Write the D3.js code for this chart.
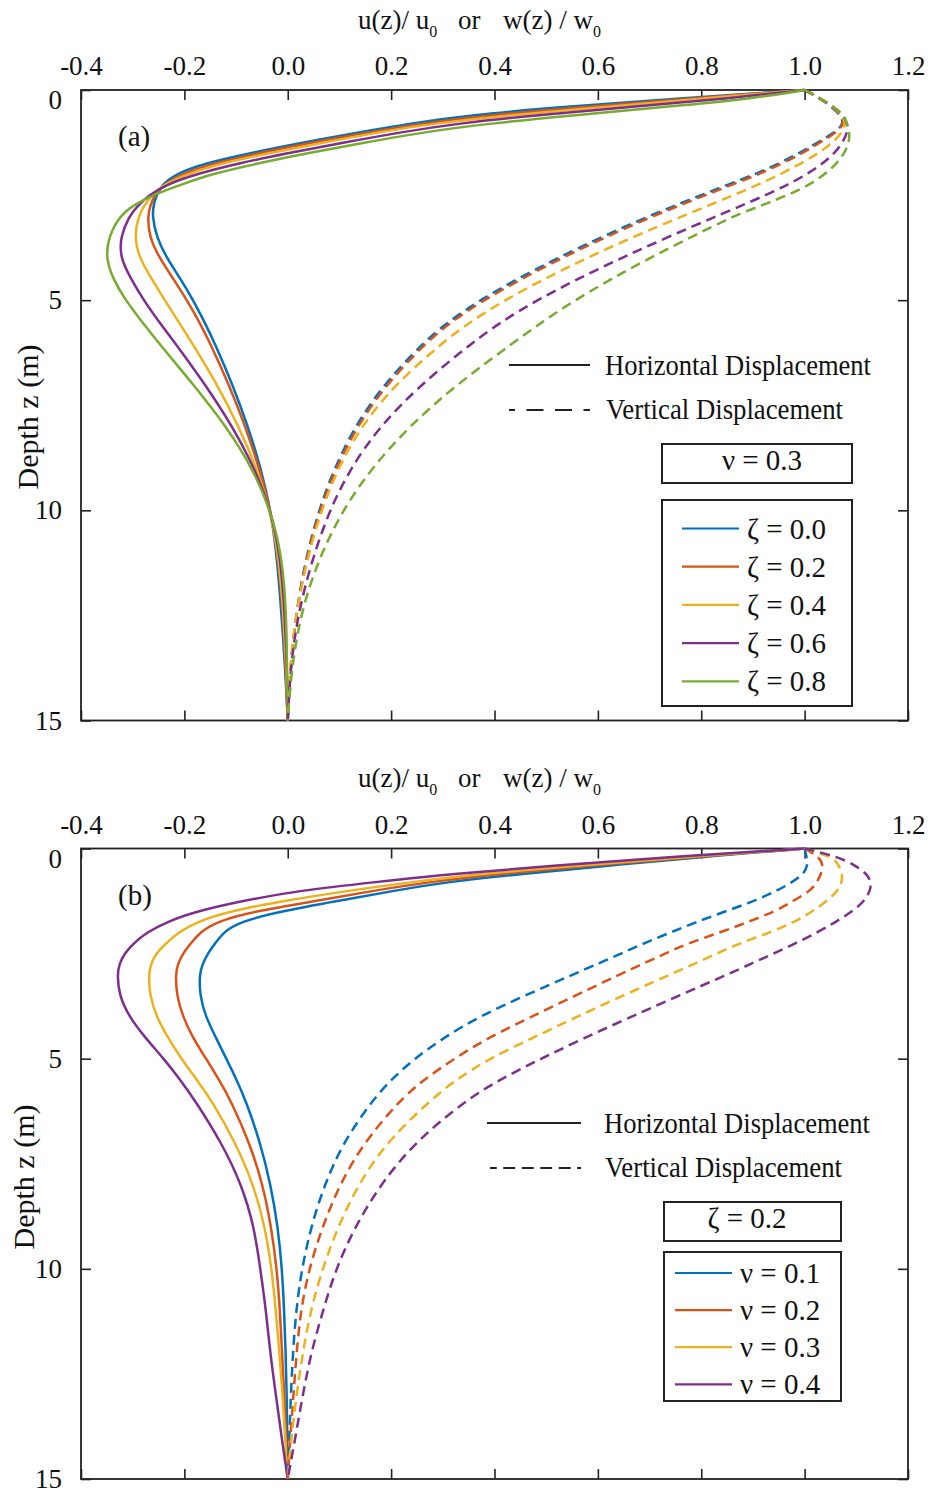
<!DOCTYPE html>
<html>
<head>
<meta charset="utf-8">
<script src="https://cdn.jsdelivr.net/npm/d3@7"></script>
<style>
  body { margin: 0; background: #fff; }
  text { font-family: "Liberation Serif", "Times New Roman", serif; fill: #111; }
</style>
</head>
<body>
<div id="chart"></div>
<script>
// Depth grid (m) shared by every curve.
var depth = [0, 0.2, 0.4, 0.6, 0.8, 1, 1.25, 1.5, 1.75, 2, 2.25, 2.5, 2.75, 3, 3.5, 4, 4.5, 5, 5.5, 6, 7, 8, 9, 10, 11, 12, 13, 14, 15];

var xTicks = [-0.4, -0.2, 0.0, 0.2, 0.4, 0.6, 0.8, 1.0, 1.2];
var yTicks = [0, 5, 10, 15];

var zetaLabels = ["ζ = 0.0", "ζ = 0.2", "ζ = 0.4", "ζ = 0.6", "ζ = 0.8"];
var nuLabels = ["ν = 0.1", "ν = 0.2", "ν = 0.3", "ν = 0.4"];
var colors = ["#0072BD", "#D95319", "#EDB120", "#7E2F8E", "#77AC30"];

// Panel (a), v = 0.3 : horizontal u(z)/u0
var uA00 = [1.0, 0.755, 0.535, 0.35, 0.235, 0.14, 0.03, -0.072, -0.162, -0.217, -0.243, -0.254, -0.26, -0.262, -0.254, -0.234, -0.207, -0.183, -0.162, -0.142, -0.107, -0.077, -0.052, -0.033, -0.022, -0.015, -0.009, -0.004, 0];
var uA02 = [1.0, 0.78, 0.579, 0.387, 0.258, 0.159, 0.048, -0.056, -0.144, -0.206, -0.24, -0.258, -0.266, -0.271, -0.268, -0.248, -0.221, -0.195, -0.172, -0.151, -0.114, -0.082, -0.055, -0.033, -0.02, -0.012, -0.007, -0.003, 0];
var uA04 = [1.0, 0.804, 0.623, 0.424, 0.281, 0.178, 0.07, -0.035, -0.13, -0.195, -0.24, -0.263, -0.278, -0.289, -0.297, -0.287, -0.263, -0.238, -0.212, -0.186, -0.137, -0.095, -0.06, -0.034, -0.019, -0.011, -0.006, -0.002, 0];
var uA06 = [1.0, 0.853, 0.667, 0.479, 0.327, 0.221, 0.109, 0.001, -0.097, -0.177, -0.235, -0.268, -0.29, -0.307, -0.324, -0.324, -0.303, -0.279, -0.25, -0.219, -0.16, -0.107, -0.064, -0.033, -0.016, -0.008, -0.004, -0.001, 0];
var uA08 = [1.0, 0.902, 0.733, 0.555, 0.387, 0.264, 0.15, 0.039, -0.06, -0.148, -0.206, -0.262, -0.3, -0.325, -0.347, -0.352, -0.338, -0.314, -0.283, -0.251, -0.183, -0.119, -0.068, -0.033, -0.013, -0.005, -0.002, -0.001, 0];

// Panel (a) : vertical w(z)/w0
var wA00 = [1.0, 1.03, 1.052, 1.07, 1.076, 1.06, 1.025, 0.99, 0.95, 0.905, 0.852, 0.8, 0.749, 0.699, 0.606, 0.522, 0.443, 0.372, 0.312, 0.263, 0.186, 0.13, 0.09, 0.06, 0.038, 0.022, 0.011, 0.004, 0];
var wA02 = [1.0, 1.03, 1.053, 1.071, 1.077, 1.063, 1.03, 0.996, 0.957, 0.912, 0.86, 0.808, 0.757, 0.707, 0.614, 0.53, 0.451, 0.379, 0.318, 0.268, 0.191, 0.134, 0.093, 0.062, 0.039, 0.023, 0.011, 0.004, 0];
var wA04 = [1.0, 1.03, 1.055, 1.073, 1.08, 1.073, 1.055, 1.027, 0.993, 0.954, 0.91, 0.863, 0.814, 0.764, 0.667, 0.578, 0.495, 0.42, 0.355, 0.3, 0.208, 0.142, 0.097, 0.065, 0.041, 0.023, 0.01, 0.003, 0];
var wA06 = [1.0, 1.03, 1.056, 1.075, 1.083, 1.083, 1.074, 1.058, 1.035, 1.005, 0.968, 0.925, 0.878, 0.83, 0.735, 0.645, 0.56, 0.482, 0.415, 0.358, 0.258, 0.178, 0.121, 0.081, 0.052, 0.029, 0.013, 0.004, 0];
var wA08 = [1.0, 1.03, 1.056, 1.076, 1.082, 1.087, 1.086, 1.077, 1.062, 1.04, 1.01, 0.968, 0.916, 0.862, 0.78, 0.7, 0.625, 0.556, 0.494, 0.438, 0.327, 0.235, 0.162, 0.106, 0.066, 0.036, 0.017, 0.006, 0];

// Panel (b), zeta = 0.2 : horizontal u(z)/u0
var uB01 = [1.0, 0.8, 0.63, 0.455, 0.305, 0.208, 0.095, -0.015, -0.095, -0.125, -0.14, -0.155, -0.165, -0.171, -0.17, -0.159, -0.139, -0.119, -0.099, -0.081, -0.053, -0.033, -0.019, -0.011, -0.007, -0.004, -0.002, -0.001, 0];
var uB02 = [1.0, 0.785, 0.597, 0.409, 0.271, 0.168, 0.055, -0.068, -0.14, -0.17, -0.187, -0.203, -0.213, -0.217, -0.215, -0.203, -0.184, -0.158, -0.133, -0.11, -0.074, -0.048, -0.032, -0.021, -0.015, -0.011, -0.007, -0.003, 0];
var uB03 = [1.0, 0.769, 0.571, 0.373, 0.238, 0.12, -0.01, -0.115, -0.177, -0.212, -0.235, -0.255, -0.265, -0.269, -0.267, -0.254, -0.232, -0.206, -0.176, -0.147, -0.101, -0.066, -0.044, -0.031, -0.023, -0.016, -0.01, -0.005, 0];
var uB04 = [1.0, 0.735, 0.527, 0.319, 0.17, 0.022, -0.09, -0.178, -0.235, -0.273, -0.298, -0.316, -0.326, -0.33, -0.326, -0.307, -0.276, -0.24, -0.208, -0.179, -0.128, -0.089, -0.065, -0.053, -0.042, -0.034, -0.023, -0.012, 0];

// Panel (b) : vertical w(z)/w0
var wB01 = [1.0, 1.004, 1.006, 0.999, 0.976, 0.948, 0.902, 0.846, 0.79, 0.74, 0.69, 0.645, 0.598, 0.552, 0.458, 0.37, 0.302, 0.245, 0.2, 0.163, 0.107, 0.071, 0.045, 0.027, 0.016, 0.01, 0.006, 0.003, 0];
var wB02 = [1.0, 1.028, 1.036, 1.032, 1.024, 1.012, 0.978, 0.942, 0.89, 0.836, 0.775, 0.73, 0.686, 0.642, 0.556, 0.472, 0.388, 0.322, 0.263, 0.216, 0.147, 0.1, 0.067, 0.041, 0.025, 0.017, 0.011, 0.005, 0];
var wB03 = [1.0, 1.055, 1.066, 1.073, 1.072, 1.065, 1.043, 1.015, 0.98, 0.933, 0.875, 0.83, 0.785, 0.74, 0.648, 0.56, 0.475, 0.39, 0.325, 0.275, 0.19, 0.136, 0.097, 0.067, 0.044, 0.029, 0.017, 0.007, 0];
var wB04 = [1.0, 1.065, 1.098, 1.12, 1.129, 1.127, 1.116, 1.092, 1.06, 1.024, 0.983, 0.94, 0.895, 0.85, 0.757, 0.665, 0.575, 0.49, 0.41, 0.343, 0.245, 0.179, 0.13, 0.093, 0.068, 0.045, 0.029, 0.015, 0];

var svg = d3.select("#chart").append("svg")
    .attr("width", 930)
    .attr("height", 1493);

// Shared x-scale (both panels use the same horizontal range).
var xScale = d3.scaleLinear().domain([-0.4, 1.2]).range([81, 908]);

function toPoints(values) {
    return values.map(function(v, i) { return { z: depth[i], v: v }; });
}

// Title like "u(z)/ u0   or   w(z) / w0" with subscripts.
function drawTitle(g, baseY) {
    var parts = [
        { x: 358, main: "u(z)/ u", sub: "0" },
        { x: 458, main: "or", sub: "" },
        { x: 503, main: "w(z) / w", sub: "0" }
    ];
    parts.forEach(function(p) {
        var t = g.append("text")
            .attr("x", p.x)
            .attr("y", baseY)
            .style("font-size", "27px");
        t.append("tspan").text(p.main);
        if (p.sub) {
            t.append("tspan")
                .attr("dy", 8)
                .style("font-size", "16px")
                .text(p.sub);
        }
    });
}

function drawPanel(p) {
    var top = p.top;
    var bottom = top + 630.5;
    var yScale = d3.scaleLinear().domain([0, 15]).range([top, bottom]);
    var g = svg.append("g");

    drawTitle(g, top - 61.5);

    // Top axis with labels, ticks pointing inward.
    var topAxis = g.append("g")
        .attr("transform", `translate(0, ${top})`)
        .call(d3.axisTop(xScale)
            .tickValues(xTicks)
            .tickSizeInner(-10)
            .tickSizeOuter(0)
            .tickPadding(15)
            .tickFormat(function(d) { return d.toFixed(1); }));
    topAxis.selectAll("text").style("font-size", "27px").attr("fill", "#111");

    // Bottom axis, ticks only.
    g.append("g")
        .attr("transform", `translate(0, ${bottom})`)
        .call(d3.axisBottom(xScale).tickValues(xTicks).tickSizeInner(-10).tickSizeOuter(0).tickFormat(""));

    // Left axis with depth labels.
    var leftAxis = g.append("g")
        .attr("transform", "translate(81, 0)")
        .call(d3.axisLeft(yScale)
            .tickValues(yTicks)
            .tickSizeInner(-10)
            .tickSizeOuter(0)
            .tickPadding(19));
    leftAxis.selectAll("text").style("font-size", "27px").attr("fill", "#111");
    leftAxis.selectAll("text").filter(function(d) { return d === 0; }).attr("y", 10);

    // Right axis, ticks only.
    g.append("g")
        .attr("transform", "translate(908, 0)")
        .call(d3.axisRight(yScale).tickValues(yTicks).tickSizeInner(-10).tickSizeOuter(0).tickFormat(""));

    g.selectAll(".domain").remove();
    g.selectAll(".tick line").attr("stroke", "#222").attr("stroke-width", 1.6);

    // Frame.
    g.append("rect")
        .attr("x", 81).attr("y", top)
        .attr("width", 827).attr("height", bottom - top)
        .attr("fill", "none")
        .attr("stroke", "#222")
        .attr("stroke-width", 1.8);

    // Y axis title.
    g.append("text")
        .attr("transform", `translate(${p.yLabelX}, ${p.yLabelY}) rotate(-90)`)
        .attr("text-anchor", "middle")
        .style("font-size", "30px")
        .text("Depth z (m)");

    // Panel tag.
    g.append("text")
        .attr("x", 118).attr("y", top + 56)
        .style("font-size", "29px")
        .text(p.tag);

    var line = d3.line()
        .x(function(d) { return xScale(d.v); })
        .y(function(d) { return yScale(d.z); })
        .curve(d3.curveBasis);

    // Solid horizontal curves.
    p.horiz.forEach(function(s, i) {
        g.append("path")
            .datum(toPoints(s))
            .attr("d", line)
            .attr("fill", "none")
            .attr("stroke", colors[i])
            .attr("stroke-width", 2.5);
    });

    // Dashed vertical curves.
    p.vert.forEach(function(s, i) {
        g.append("path")
            .datum(toPoints(s))
            .attr("d", line)
            .attr("fill", "none")
            .attr("stroke", colors[i])
            .attr("stroke-width", 2.5)
            .attr("stroke-dasharray", "10,6");
    });

    // Line-style legend.
    var L = p.legend;
    g.append("line")
        .attr("x1", L.styleX1).attr("x2", L.styleX2)
        .attr("y1", L.solidY).attr("y2", L.solidY)
        .attr("stroke", "#222").attr("stroke-width", 2);
    g.append("line")
        .attr("x1", L.styleX1 + L.dashShift).attr("x2", L.styleX2)
        .attr("y1", L.dashY).attr("y2", L.dashY)
        .attr("stroke", "#222").attr("stroke-width", 2)
        .attr("stroke-dasharray", L.dashPattern)
        .attr("stroke-dashoffset", L.dashOffset);
    g.append("text")
        .attr("x", L.textX).attr("y", L.solidY + 10)
        .attr("textLength", 266).attr("lengthAdjust", "spacingAndGlyphs")
        .style("font-size", "29px")
        .text("Horizontal Displacement");
    g.append("text")
        .attr("x", L.textX + 1).attr("y", L.dashY + 9)
        .attr("textLength", 237).attr("lengthAdjust", "spacingAndGlyphs")
        .style("font-size", "29px")
        .text("Vertical Displacement");

    // Parameter box.
    g.append("rect")
        .attr("x", L.boxX).attr("y", L.paramY)
        .attr("width", L.boxW).attr("height", L.paramH)
        .attr("fill", "#fff").attr("stroke", "#222").attr("stroke-width", 2);
    g.append("text")
        .attr("x", L.paramTextX).attr("y", L.paramY + L.paramH - 13)
        .attr("text-anchor", "middle")
        .style("font-size", "29px")
        .text(p.param);

    // Colour legend box.
    g.append("rect")
        .attr("x", L.boxX).attr("y", L.keyY)
        .attr("width", L.boxW).attr("height", L.keyH)
        .attr("fill", "#fff").attr("stroke", "#222").attr("stroke-width", 2);
    p.labels.forEach(function(lab, i) {
        var ry = L.rowY0 + i * L.rowStep;
        g.append("line")
            .attr("x1", L.keyX1).attr("x2", L.keyX2)
            .attr("y1", ry).attr("y2", ry)
            .attr("stroke", colors[i]).attr("stroke-width", 2.2);
        g.append("text")
            .attr("x", L.keyX2 + 8).attr("y", ry + 10)
            .style("font-size", "29px")
            .text(lab);
    });
}

drawPanel({
    top: 90,
    tag: "(a)",
    yLabelX: 38, yLabelY: 417,
    horiz: [uA00, uA02, uA04, uA06, uA08],
    vert: [wA00, wA02, wA04, wA06, wA08],
    labels: zetaLabels,
    param: "ν = 0.3",
    legend: {
        styleX1: 509, styleX2: 590, dashShift: 0,
        solidY: 365, dashY: 410,
        dashPattern: "17,11.5", dashOffset: 11,
        textX: 605,
        boxX: 662, boxW: 190,
        paramY: 444, paramH: 39, paramTextX: 762,
        keyY: 500, keyH: 206,
        keyX1: 682, keyX2: 739,
        rowY0: 528.5, rowStep: 38.2
    }
});

drawPanel({
    top: 848.5,
    tag: "(b)",
    yLabelX: 34, yLabelY: 1177,
    horiz: [uB01, uB02, uB03, uB04],
    vert: [wB01, wB02, wB03, wB04],
    labels: nuLabels,
    param: "ζ = 0.2",
    legend: {
        styleX1: 487, styleX2: 581, dashShift: 3,
        solidY: 1123, dashY: 1168,
        dashPattern: "12,6.5", dashOffset: 5.3,
        textX: 604,
        boxX: 664, boxW: 177,
        paramY: 1202, paramH: 39, paramTextX: 747,
        keyY: 1252, keyH: 149,
        keyX1: 675, keyX2: 732,
        rowY0: 1273, rowStep: 37.1
    }
});
</script>
</body>
</html>
